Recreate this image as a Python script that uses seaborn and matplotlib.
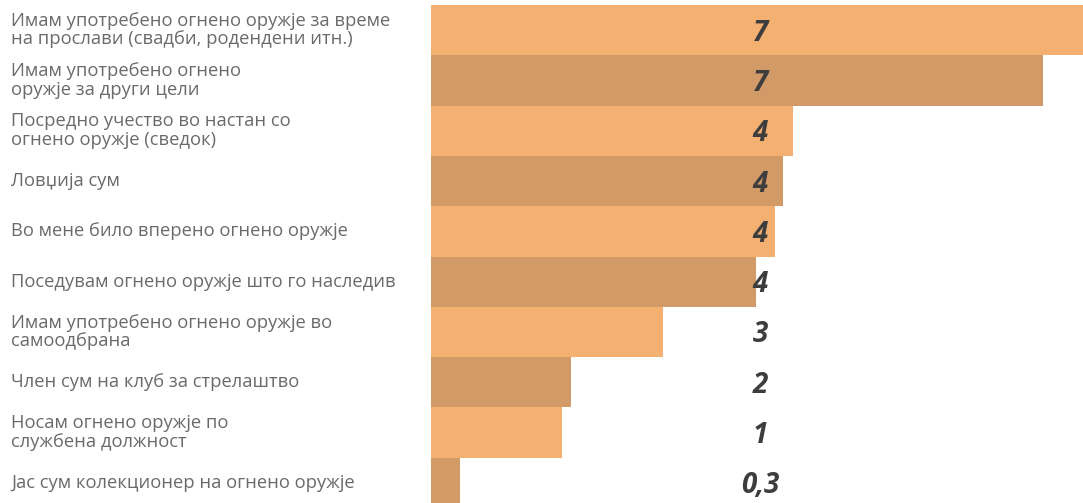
import matplotlib.pyplot as plt
import matplotlib.transforms as mtransforms
import pandas as pd
import seaborn as sns

sns.set_theme(style="white")
plt.rcParams["font.family"] = ["Open Sans", "DejaVu Sans"]

CATEGORIES = [
    "Имам употребено огнено оружје за време\nна прослави (свадби, родендени итн.)",
    "Имам употребено огнено\nоружје за други цели",
    "Посредно учество во настан со\nогнено оружје (сведок)",
    "Ловџија сум",
    "Во мене било вперено огнено оружје",
    "Поседувам огнено оружје што го наследив",
    "Имам употребено огнено оружје во\nсамоодбрана",
    "Член сум на клуб за стрелаштво",
    "Носам огнено оружје по\nслужбена должност",
    "Јас сум колекционер на огнено оружје",
]
VALUES = [7.24, 6.80, 4.02, 3.91, 3.82, 3.61, 2.58, 1.56, 1.46, 0.32]
VALUE_LABELS = ["7", "7", "4", "4", "4", "4", "3", "2", "1", "0,3"]

LIGHT = "#F4B071"
DARK = "#D29A66"

df = pd.DataFrame({"category": CATEGORIES, "value": VALUES})
palette = {c: (LIGHT if i % 2 == 0 else DARK) for i, c in enumerate(CATEGORIES)}

fig = plt.figure(figsize=(10.83, 5.03), dpi=100)
ax = fig.add_axes([431 / 1083, -5 / 503, 652 / 1083, 503 / 503])

sns.barplot(
    data=df, x="value", y="category", hue="category", palette=palette,
    orient="h", width=1.0, legend=False, saturation=1, linewidth=0, ax=ax,
)

ax.set_xlim(0, max(VALUES))
ax.set_ylim(len(CATEGORIES) - 0.5, -0.5)
ax.set_xlabel("")
ax.set_ylabel("")
ax.set_xticks([])
ax.set_yticks([])
sns.despine(ax=ax, left=True, bottom=True)

label_trans = mtransforms.blended_transform_factory(fig.transFigure, ax.transData)
value_trans = mtransforms.blended_transform_factory(ax.transAxes, ax.transData)

for i, (cat, lab) in enumerate(zip(CATEGORIES, VALUE_LABELS)):
    ax.text(11 / 1083, i, cat, transform=label_trans, ha="left", va="center",
            fontsize=13.2, color="#6a6a6a", linespacing=1.05, clip_on=False)
    ax.text(0.505, i + 0.06, lab, transform=value_trans, ha="center", va="center",
            fontsize=20, fontweight="bold", fontstyle="italic", color="#3d3d3d")

fig.savefig("out.png", dpi=100)
